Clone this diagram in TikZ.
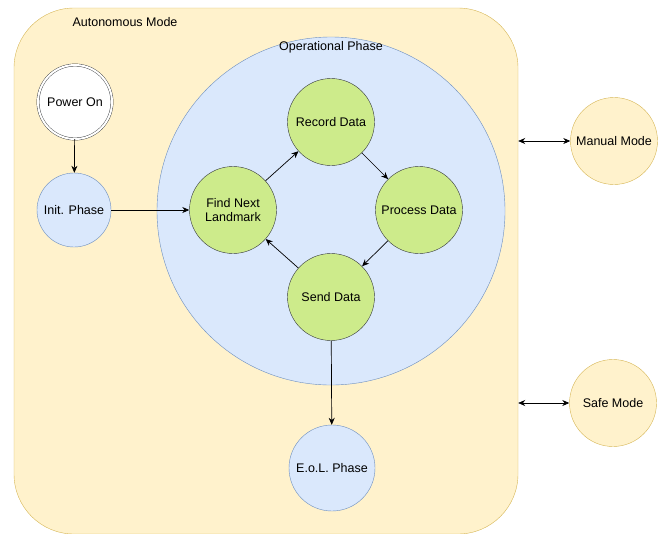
\documentclass[tikz,border=0pt]{standalone}
\usepackage{fontspec}
\setmainfont{Liberation Sans}
\usetikzlibrary{arrows.meta}
\definecolor{modefill}{HTML}{FFF2CC}
\definecolor{modeline}{HTML}{D6B656}
\definecolor{phasefill}{HTML}{DAE8FC}
\definecolor{phaseline}{HTML}{6C8EBF}
\definecolor{taskfill}{HTML}{CDEB8B}
\definecolor{taskline}{HTML}{36393D}
\tikzset{
  state/.style={circle,inner sep=0pt,align=center,font=\fontsize{12.5}{14}\selectfont},
  phase/.style={state,fill=phasefill,draw=phaseline,minimum size=74pt},
  task/.style={state,fill=taskfill,draw=taskline,minimum size=87pt},
  mode/.style={state,fill=modefill,draw=modeline,minimum size=87pt},
  flow/.style={line width=0.7pt,-{Stealth[length=7pt,width=6pt]}},
  twoway/.style={line width=0.7pt,{Stealth[length=7pt,width=6pt]}-{Stealth[length=7pt,width=6pt]}},
}
\begin{document}
\begin{tikzpicture}[x=1pt,y=-1pt]
  \useasboundingbox (0,0) rectangle (660,533);
  \node (auto) [draw=modeline,fill=modefill,rounded corners=60pt,
    minimum width=504pt,minimum height=526pt] at (266,271) {};
  \node (autolabel) [font=\fontsize{12.5}{14}\selectfont] at (125,22) {Autonomous Mode};
  \node (oper) [circle,draw=phaseline,fill=phasefill,minimum size=348pt] at (331,211) {};
  \node (operlabel) [font=\fontsize{12.5}{14}\selectfont] at (331,47) {Operational Phase};
  % states
  \node (power) [state,draw=taskline,fill=white,double=white,double distance=2pt,
    minimum size=74pt] at (75,102) {Power On};
  \node (init) [phase] at (74,210) {Init. Phase};
  \node (record) [task] at (331,122) {Record Data};
  \node (process) [task] at (419,210) {Process Data};
  \node (send) [task] at (331,297) {Send Data};
  \node (find) [task] at (233,210) {Find Next\\Landmark};
  \node (eol) [phase,minimum size=86pt] at (332,468) {E.o.L. Phase};
  \node (manual) [mode] at (614,141) {Manual Mode};
  \node (safe) [mode] at (613,403) {Safe Mode};
  % transitions
  \draw[flow] (power) -- (init);
  \draw[flow] (init) -- (find);
  \draw[flow] (find) -- (record);
  \draw[flow] (record) -- (process);
  \draw[flow] (process) -- (send);
  \draw[flow] (send) -- (find);
  \draw[flow] (send) -- (eol);
  \draw[twoway] (auto.east |- manual) -- (manual);
  \draw[twoway] (auto.east |- safe) -- (safe);
\end{tikzpicture}
\end{document}
